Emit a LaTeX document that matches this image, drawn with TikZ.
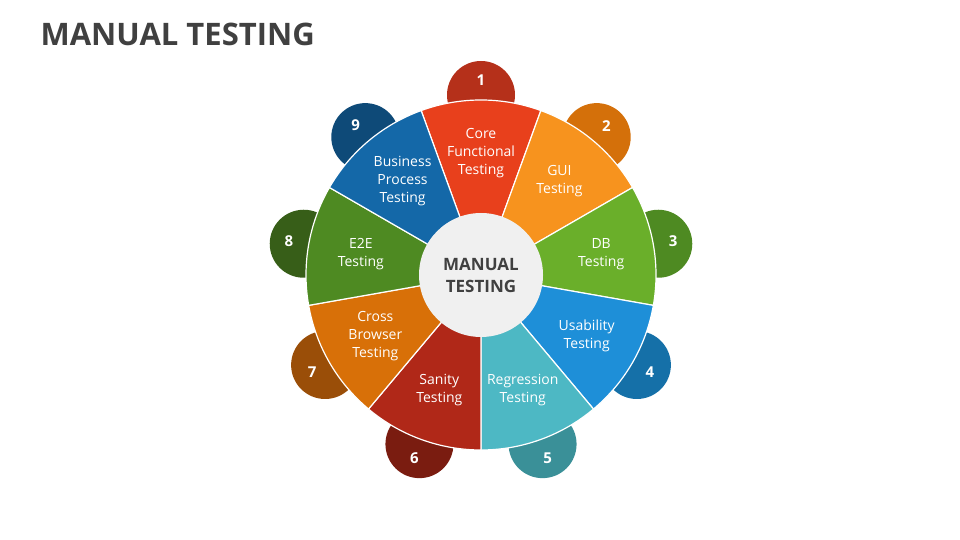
\documentclass[tikz,border=0pt]{standalone}
\usepackage{fontspec}
\setmainfont{Open Sans}
\usetikzlibrary{positioning,calc}
\definecolor{titlegray}{HTML}{404040}
\definecolor{cA}{HTML}{E8401C}\definecolor{dA}{HTML}{B5301A}
\definecolor{cB}{HTML}{F7931E}\definecolor{dB}{HTML}{D4700A}
\definecolor{cC}{HTML}{6AAF2A}\definecolor{dC}{HTML}{4E8A22}
\definecolor{cD}{HTML}{1E8FD8}\definecolor{dD}{HTML}{1570A8}
\definecolor{cE}{HTML}{4DB8C4}\definecolor{dE}{HTML}{3A9098}
\definecolor{cF}{HTML}{B02818}\definecolor{dF}{HTML}{7A1C10}
\definecolor{cG}{HTML}{D87008}\definecolor{dG}{HTML}{9A4E08}
\definecolor{cH}{HTML}{4E8A22}\definecolor{dH}{HTML}{375E18}
\definecolor{cI}{HTML}{1468A8}\definecolor{dI}{HTML}{0E4A78}
\tikzset{
  seglabel/.style={text=white,align=center,font=\fontsize{14}{18}\selectfont},
  numbub/.style={circle,minimum size=68pt,inner sep=0pt},
  numtxt/.style={text=white,font=\bfseries\fontsize{15}{18}\selectfont},
}
\begin{document}
\begin{tikzpicture}[x=1pt,y=1pt]
\useasboundingbox (0,0) rectangle (960,540);
\node[anchor=west,text=titlegray,font=\bfseries\fontsize{31}{36}\selectfont] (title) at (37,506) {MANUAL TESTING};
% number bubbles behind the wheel
\foreach \i/\d in {1/dA,2/dB,3/dC,4/dD,5/dE,6/dF,7/dG,8/dH,9/dI}{
  \pgfmathsetmacro\ang{90-40*(\i-1)}
  \node[numbub,fill=\d] (n\i) at ($(481,265)+(\ang:180)$) {};
  \node[numtxt] (t\i) at ($(481,265)+(\ang:195)$) {\i};
}
% wheel segments
\foreach \i/\c/\txt in {1/cA/{Core\\Functional\\Testing},2/cB/{GUI\\Testing},3/cC/{DB\\Testing},4/cD/{Usability\\Testing},5/cE/{Regression\\Testing},6/cF/{Sanity\\Testing},7/cG/{Cross\\Browser\\Testing},8/cH/{E2E\\Testing},9/cI/{Business\\Process\\Testing}}{
  \pgfmathsetmacro\ang{90-40*(\i-1)}
  \fill[\c,draw=white,line width=1.2pt] (481,265) -- ++(\ang+20:175) arc[start angle=\ang+20,end angle=\ang-20,radius=175] -- cycle;
  \node[seglabel] (s\i) at ($(481,265)+(\ang:122)$) {\txt};
}
\node[circle,fill=white!94!black,minimum size=124pt,inner sep=0pt,align=center,text=titlegray,font=\bfseries\fontsize{17}{22}\selectfont] (hub) at (481,265) {MANUAL\\TESTING};
\end{tikzpicture}
\end{document}
